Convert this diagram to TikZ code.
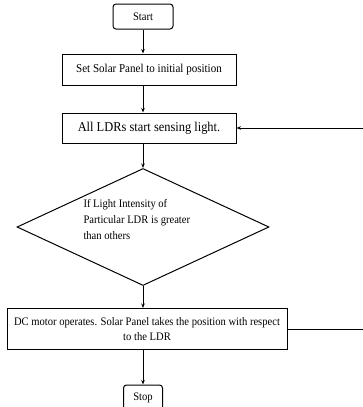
\documentclass[tikz,border=0pt]{standalone}
\usepackage{fontspec}
\setmainfont[FakeStretch=0.92]{Liberation Serif}
\usetikzlibrary{shapes.geometric}
\usetikzlibrary{arrows.meta}

\begin{document}
\begin{tikzpicture}[x=1pt, y=1pt, line width=1pt, font=\fontsize{11.5}{16}\selectfont,
    box/.style = {draw, rectangle, inner sep=2pt},
    term/.style = {draw, rectangle, rounded corners=3pt, minimum width=60pt, minimum height=25pt},
    decide/.style = {draw, diamond, aspect=2.15, minimum width=252pt, minimum height=117pt, inner sep=0pt},
    flow/.style = {-{Stealth[length=4.5pt, width=3.5pt]}}]
            \useasboundingbox (0,0) rectangle (363,-407);
            \node[term] (start) at (143,-16.5) {Start};
            \node[box, minimum width=174pt, minimum height=31pt, font=\fontsize{12}{14}\selectfont] (init) at (149,-69.5) {Set Solar Panel to initial position};
            \node[box, minimum width=174pt, minimum height=30pt, font=\fontsize{13.5}{15}\selectfont] (sense) at (149,-128) {All LDRs start sensing light.};
            \node[decide] (check) at (143,-227) {};
            \node[align=left, anchor=north west, inner sep=0pt] (checktxt) at (83,-199) {If Light Intensity of\\Particular LDR is greater\\than others};
            \node[box, minimum width=280pt, minimum height=41pt, align=center, font=\fontsize{11.5}{15}\selectfont] (motor) at (147,-329) {DC motor operates. Solar Panel takes the position with respect\\to the LDR};
            \node[term, minimum width=39pt] (stop) at (143,-397.5) {Stop};
            \coordinate (loopin) at (363,-128);
            \coordinate (loopout) at (363,-329);
            \draw[flow] (start) -- (start |- init.north);
            \draw[flow] (start |- init.south) -- (start |- sense.north);
            \draw[flow] (start |- sense.south) -- (check.north);
            \draw[flow] (check.south) -- (check.south |- motor.north);
            \draw[flow] (check.south |- motor.south) -- (stop);
            \draw (motor.east) -- (loopout);
            \draw[flow] (loopin) -- (sense.east);
        \end{tikzpicture}
\end{document}
